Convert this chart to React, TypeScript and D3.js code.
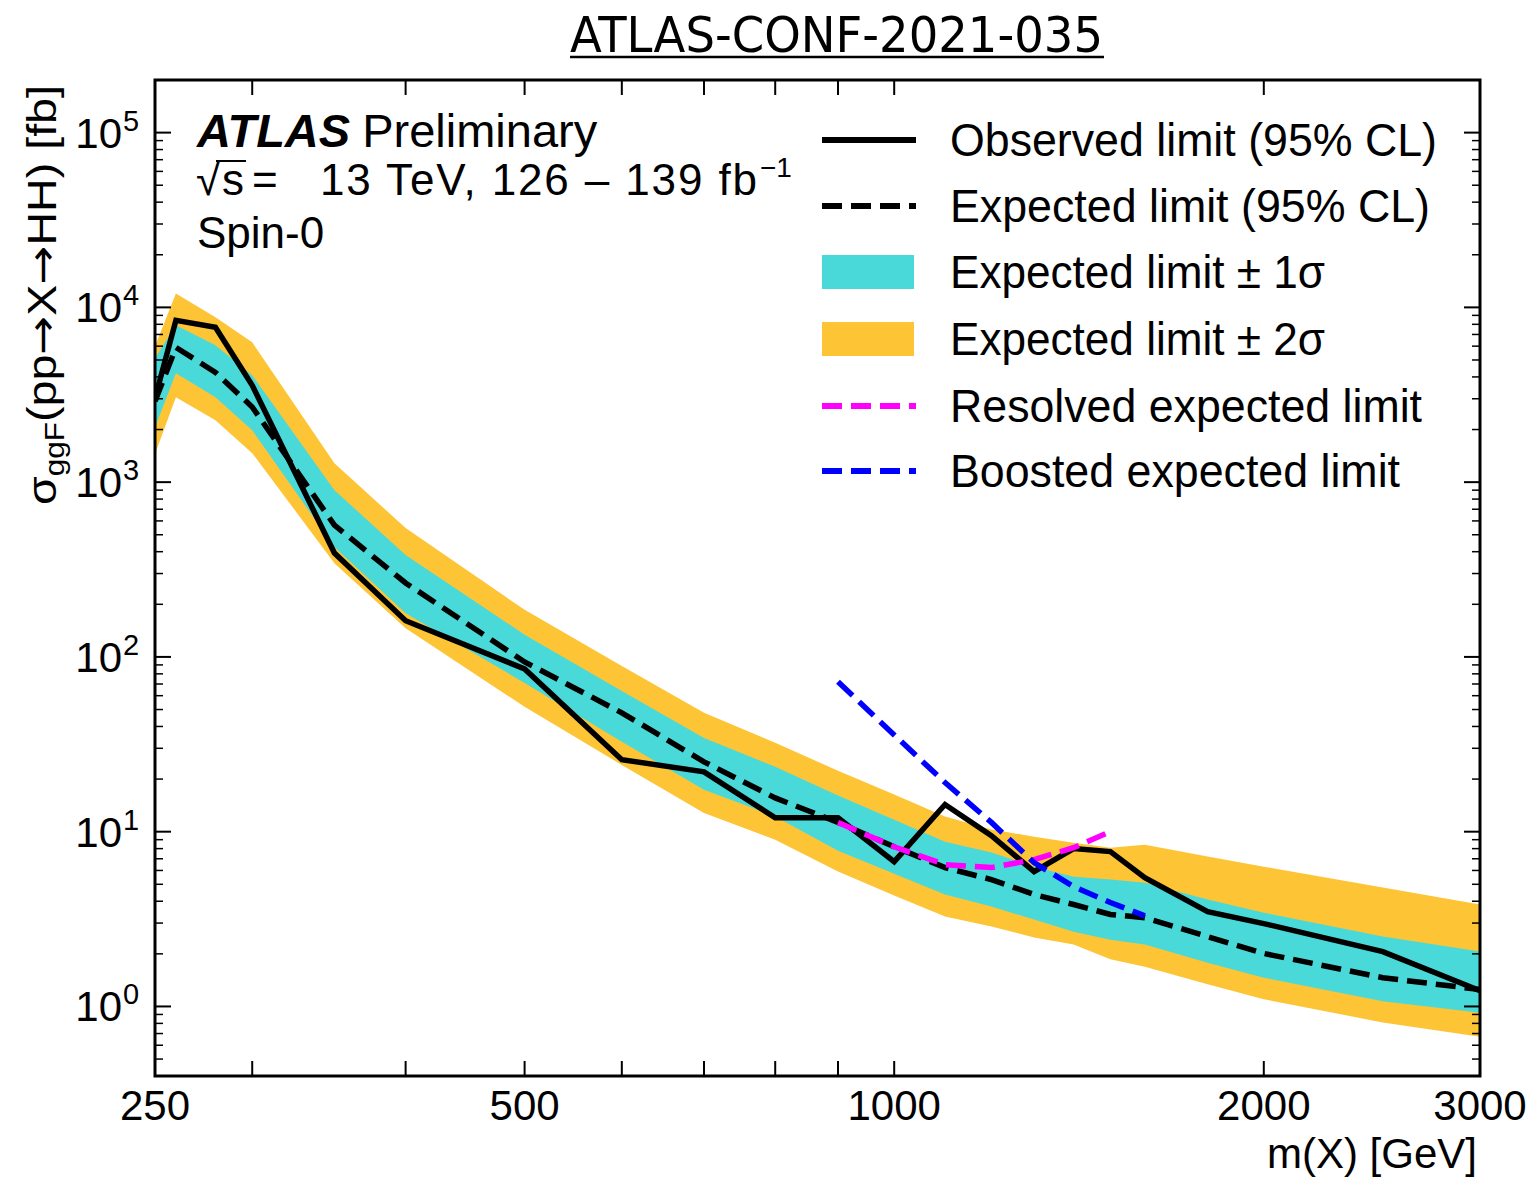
import React from "react";
import * as d3 from "d3";

// ---- data ----
const masses = [250, 260, 280, 300, 350, 400, 500, 600, 700, 800, 900, 1000, 1100, 1200, 1300, 1400, 1500, 1600, 1800, 2000, 2500, 3000];
const observed = [3020, 8430, 7690, 3580, 393, 161, 85.4, 25.8, 22.0, 12.0, 12.0, 6.74, 14.3, 9.49, 5.91, 8.0, 7.69, 5.46, 3.49, 2.98, 2.06, 1.23];
const expected = [2900, 5900, 4250, 2690, 568, 265, 93.6, 47.9, 25.1, 15.6, 11.3, 8.2, 6.23, 5.32, 4.37, 3.83, 3.36, 3.22, 2.51, 2.01, 1.46, 1.25];
const plus1 = [5110, 7890, 6070, 4090, 900, 383, 134, 63.9, 34.4, 23.5, 16.1, 11.7, 8.77, 7.59, 6.31, 5.53, 5.32, 5.11, 4.09, 3.44, 2.51, 2.06];
const minus1 = [2060, 4200, 3060, 1983, 425, 178, 71, 32.7, 17.4, 12.2, 7.79, 5.75, 4.37, 3.73, 3.14, 2.68, 2.41, 2.26, 1.78, 1.46, 1.07, 0.92];
const plus2 = [6000, 12000, 8770, 6310, 1284, 546, 186, 88.8, 47.9, 32.3, 22.3, 16.3, 12.2, 10.3, 9.36, 8.65, 8.1, 8.43, 7.2, 6.31, 4.79, 3.83];
const minus2 = [1450, 3060, 2260, 1465, 344, 146, 51.8, 24.1, 12.8, 9.0, 5.91, 4.31, 3.27, 2.87, 2.48, 2.26, 1.86, 1.69, 1.34, 1.1, 0.81, 0.67];

const resolvedMasses = [900, 1000, 1100, 1200, 1300, 1400, 1500];
const resolvedExpected = [11.3, 8.2, 6.48, 6.23, 6.92, 8.1, 10.0];
const boostedMasses = [900, 1000, 1100, 1200, 1300, 1400, 1500, 1600];
const boostedExpected = [72, 35.8, 19.1, 11.3, 6.65, 4.85, 3.93, 3.3];

const xTickLabels = ["250", "500", "1000", "2000", "3000"];
const xTickValues = [250, 500, 1000, 2000, 3000];
const xMinorTicks = [300, 400, 600, 700, 800, 900];
const yExponents = [0, 1, 2, 3, 4, 5];

const legendLabels = [
  "Observed limit (95% CL)",
  "Expected limit (95% CL)",
  "Expected limit \u00b1 1\u03c3",
  "Expected limit \u00b1 2\u03c3",
  "Resolved expected limit",
  "Boosted expected limit",
];
const legendWidths = [487, 480, 375, 375, 472, 450];

const CYAN = "#4AD9D9";
const ORANGE = "#FDC436";
const FONT = "'Liberation Sans', Arial, Helvetica, sans-serif";
const ARROWFONT = "'DejaVu Sans', sans-serif";

export default function App() {
  const W = 1534, H = 1182;
  const L = 155, R = 1480, T = 80, B = 1076;
  const x = d3.scaleLog().domain([250, 3000]).range([L, R]);
  const y = d3.scaleLog().domain([0.4, 2e5]).range([B, T]);

  const band = (lo: number[], hi: number[]) =>
    d3.area<number>()
      .x((_, i) => x(masses[i]))
      .y0((_, i) => y(lo[i]))
      .y1((_, i) => y(hi[i]))(masses) as string;

  const lineOf = (ms: number[], vs: number[]) =>
    d3.line<number>().x((m) => x(m)).y((_, i) => y(vs[i]))(ms) as string;

  const yMajor = yExponents.map((e) => Math.pow(10, e));
  const yMinor: number[] = [];
  for (let e = -1; e <= 5; e++) {
    for (let j = 2; j <= 9; j++) {
      const v = j * Math.pow(10, e);
      if (v > 0.4 && v < 2e5) yMinor.push(v);
    }
  }

  const dash = "20,9";
  const LW = 5.5;
  const legendY = [140, 206, 272, 339, 406, 471];

  return (
    <svg width={W} height={H} style={{ position: "absolute", left: 0, top: 0, background: "#fff" }} fontFamily={FONT}>
      <rect x={0} y={0} width={W} height={H} fill="#fff" />
      <defs>
        <clipPath id="plotclip">
          <rect x={L} y={T} width={R - L} height={B - T} />
        </clipPath>
      </defs>

      {/* Title */}
      <text x={570} y={52} fontSize={50} fontFamily="'DejaVu Sans', sans-serif" textLength={533} lengthAdjust="spacingAndGlyphs">ATLAS-CONF-2021-035</text>
      <line x1={570} x2={1104} y1={57} y2={57} stroke="#000" strokeWidth={2.5} />

      <g clipPath="url(#plotclip)">
        <path d={band(minus2, plus2)} fill={ORANGE} />
        <path d={band(minus1, plus1)} fill={CYAN} />
        <path d={lineOf(masses, expected)} fill="none" stroke="#000" strokeWidth={LW} strokeDasharray={dash} />
        <path d={lineOf(masses, observed)} fill="none" stroke="#000" strokeWidth={LW} />
        <path d={lineOf(resolvedMasses, resolvedExpected)} fill="none" stroke="#FF00FF" strokeWidth={LW} strokeDasharray={dash} />
        <path d={lineOf(boostedMasses, boostedExpected)} fill="none" stroke="#0000FF" strokeWidth={LW} strokeDasharray={dash} />
      </g>

      {/* frame */}
      <rect x={L} y={T} width={R - L} height={B - T} fill="none" stroke="#000" strokeWidth={3} />

      {/* x ticks */}
      {[...xTickValues.slice(1, 4), ...xMinorTicks].map((v) => (
        <g key={"xt" + v}>
          <line x1={x(v)} x2={x(v)} y1={B} y2={B - 15} stroke="#000" strokeWidth={2} />
          <line x1={x(v)} x2={x(v)} y1={T} y2={T + 15} stroke="#000" strokeWidth={2} />
        </g>
      ))}
      {xTickValues.map((v, i) => (
        <text key={"xl" + v} x={x(v)} y={1120} fontSize={42} textAnchor="middle">{xTickLabels[i]}</text>
      ))}
      <text x={1477} y={1168} fontSize={42} textAnchor="end">m(X) [GeV]</text>

      {/* y ticks */}
      {yMajor.map((v) => (
        <g key={"ym" + v}>
          <line x1={L} x2={L + 16} y1={y(v)} y2={y(v)} stroke="#000" strokeWidth={2} />
          <line x1={R} x2={R - 16} y1={y(v)} y2={y(v)} stroke="#000" strokeWidth={2} />
        </g>
      ))}
      {yMinor.map((v) => (
        <g key={"yn" + v}>
          <line x1={L} x2={L + 8} y1={y(v)} y2={y(v)} stroke="#000" strokeWidth={1.5} />
          <line x1={R} x2={R - 8} y1={y(v)} y2={y(v)} stroke="#000" strokeWidth={1.5} />
        </g>
      ))}
      {yExponents.map((e) => (
        <text key={"yl" + e} x={122} y={y(Math.pow(10, e)) + 15} fontSize={42} textAnchor="end">
          10
          <tspan x={123} dy={-17} fontSize={29} textAnchor="start">{e}</tspan>
        </text>
      ))}

      {/* y title */}
      <text transform="translate(56,295) rotate(-90)" fontSize={40} textAnchor="middle" textLength={420} lengthAdjust="spacingAndGlyphs">
        σ<tspan fontSize={27} dy={8}>ggF</tspan><tspan dy={-8}>(pp</tspan><tspan fontFamily={ARROWFONT}>→</tspan>X<tspan fontFamily={ARROWFONT}>→</tspan>HH) [fb]
      </text>

      {/* ATLAS label */}
      <text x={197} y={147} fontSize={47}>
        <tspan fontWeight="bold" fontStyle="italic">ATLAS</tspan>
        <tspan dx={12}>Preliminary</tspan>
      </text>
      <text x={196} y={195} fontSize={44}>√</text>
      <line x1={216} x2={246} y1={161} y2={161} stroke="#000" strokeWidth={2} />
      <text x={222} y={195} fontSize={44}>s</text>
      <text x={252} y={195} fontSize={44}>=</text>
      <text x={320} y={195} fontSize={44} textLength={437} lengthAdjust="spacing">13 TeV, 126 – 139 fb</text>
      <text x={760} y={177} fontSize={28}>−1</text>
      <text x={197} y={248} fontSize={44}>Spin-0</text>

      {/* legend */}
      <line x1={822} x2={916} y1={legendY[0]} y2={legendY[0]} stroke="#000" strokeWidth={6} />
      <line x1={822} x2={916} y1={legendY[1]} y2={legendY[1]} stroke="#000" strokeWidth={6} strokeDasharray={dash} />
      <rect x={822} y={legendY[2] - 17} width={92} height={34} fill={CYAN} />
      <rect x={822} y={legendY[3] - 17} width={92} height={34} fill={ORANGE} />
      <line x1={822} x2={916} y1={legendY[4]} y2={legendY[4]} stroke="#FF00FF" strokeWidth={6} strokeDasharray={dash} />
      <line x1={822} x2={916} y1={legendY[5]} y2={legendY[5]} stroke="#0000FF" strokeWidth={6} strokeDasharray={dash} />
      {legendLabels.map((t, i) => (
        <text key={t} x={950} y={legendY[i] + 16} fontSize={46} textLength={legendWidths[i]} lengthAdjust="spacingAndGlyphs">{t}</text>
      ))}
    </svg>
  );
}
